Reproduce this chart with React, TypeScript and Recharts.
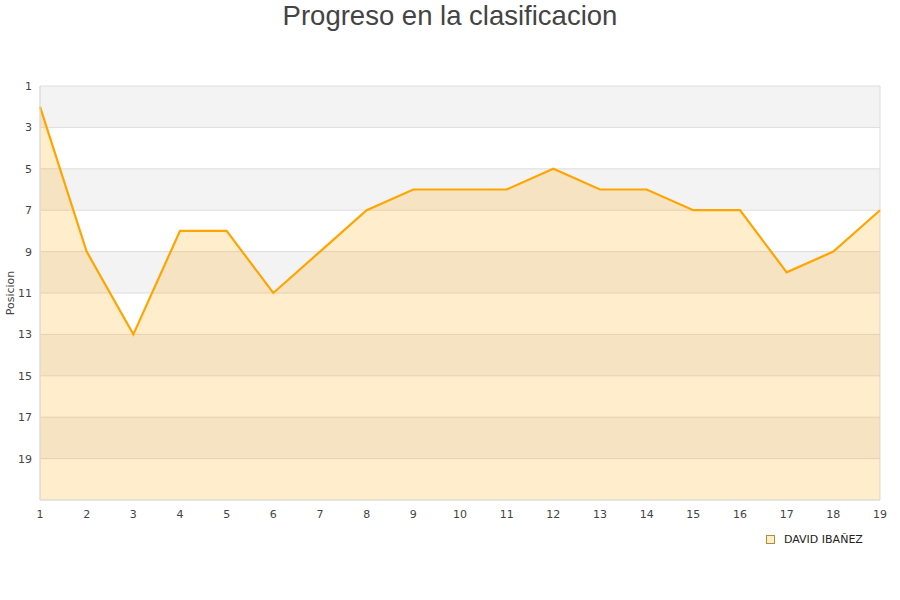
import {
  AreaChart,
  Area,
  XAxis,
  YAxis,
  CartesianGrid,
  Legend,
} from "recharts";

const jornadas = [1, 2, 3, 4, 5, 6, 7, 8, 9, 10, 11, 12, 13, 14, 15, 16, 17, 18, 19];
const posiciones = [2, 9, 13, 8, 8, 11, 9, 7, 6, 6, 6, 5, 6, 6, 7, 7, 10, 9, 7];
const yTicks = [1, 3, 5, 7, 9, 11, 13, 15, 17, 19];
const playerName = "DAVID IBAÑEZ";

const data = jornadas.map((j, i) => ({ jornada: j, posicion: posiciones[i] }));

const tickStyle = { fontFamily: "DejaVu Sans", fontSize: 11, fill: "#444" };

function LegendBox() {
  return (
    <div
      style={{
        display: "flex",
        alignItems: "center",
        fontFamily: "DejaVu Sans",
        fontSize: 11,
        color: "#222",
      }}
    >
      <span
        style={{
          display: "inline-block",
          width: 7,
          height: 7,
          background: "#ffedcc",
          border: "1px solid #b8893a",
          marginRight: 9,
        }}
      />
      {playerName}
    </div>
  );
}

export default function App() {
  return (
    <div style={{ position: "absolute", left: 0, top: 0, width: 900, height: 600, background: "#fff" }}>
      <div
        style={{
          position: "absolute",
          top: 0,
          left: 0,
          width: 900,
          textAlign: "center",
          fontFamily: "Liberation Sans",
          fontSize: 27.5,
          color: "#444",
          lineHeight: "32px",
        }}
      >
        Progreso en la clasificacion
      </div>
      <AreaChart
        width={900}
        height={600}
        data={data}
        margin={{ top: 86, right: 20, bottom: 0, left: 0 }}
      >
        <CartesianGrid
          stroke="#dddddd"
          horizontalFill={["#f3f3f3", "#ffffff"]}
          verticalCoordinatesGenerator={({ offset }: any) => [offset.left, offset.left + offset.width]}
        />
        <XAxis
          dataKey="jornada"
          type="number"
          domain={[1, 19]}
          ticks={jornadas}
          height={87}
          tickLine={false}
          axisLine={{ stroke: "#dddddd" }}
          tick={tickStyle}
          tickMargin={4}
        />
        <YAxis
          type="number"
          reversed
          domain={[1, 21]}
          ticks={yTicks}
          width={40}
          tickLine={false}
          axisLine={{ stroke: "#dddddd" }}
          tick={tickStyle}
          tickMargin={2}
          label={{
            value: "Posicion",
            angle: -90,
            position: "insideLeft",
            offset: 10,
            style: { fontFamily: "DejaVu Sans", fontSize: 11, fill: "#444", textAnchor: "middle" },
          }}
        />
        <Area
          type="linear"
          dataKey="posicion"
          baseValue={21}
          stroke="#ffa500"
          strokeWidth={2.2}
          fill="#ffa500"
          fillOpacity={0.2}
          dot={false}
          activeDot={false}
          isAnimationActive={false}
        />
        <Legend
          content={() => <LegendBox />}
          wrapperStyle={{ position: "absolute", left: 766, top: 533, width: "auto" }}
        />
      </AreaChart>
    </div>
  );
}
